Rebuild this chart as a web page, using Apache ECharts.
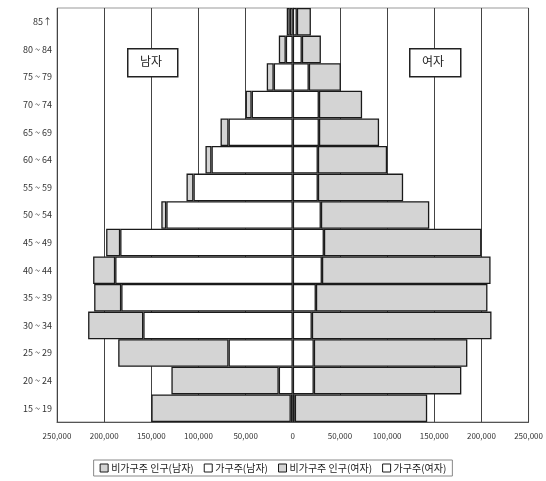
<!DOCTYPE html>
<html><head><meta charset="utf-8">
<script src="https://cdn.jsdelivr.net/npm/echarts@6/dist/echarts.min.js"></script>
<style>html,body{margin:0;padding:0;background:#fff}#c{width:546px;height:481px}</style>
</head><body><div id="c"></div>
<script>
// age groups, bottom to top
const ageGroups = ['15 ~ 19','20 ~ 24','25 ~ 29','30 ~ 34','35 ~ 39','40 ~ 44','45 ~ 49','50 ~ 54','55 ~ 59','60 ~ 64','65 ~ 69','70 ~ 74','75 ~ 79','80 ~ 84','85↑'];
const maleHeads    = [2100,14900,68100,158500,181900,188300,183000,134100,105300,86200,68100,43600,20200,7400,3200];
const maleOthers   = [147900,113800,117000,58500,28700,23400,14900,5300,7400,6400,8500,6400,7400,7400,3200];
const femaleHeads  = [2100,22300,22300,20200,24500,30900,33000,29800,26600,26600,27700,27700,17000,9600,4300];
const femaleOthers = [140400,156400,162800,190500,181900,178800,167000,114900,90400,73400,63800,45800,34000,20200,14900];
const seriesNames = ['비가구주 인구(남자)','가구주(남자)','비가구주 인구(여자)','가구주(여자)'];
const xTicks = {min:-250000, max:250000, interval:50000};

const grayC = '#d4d4d4', whiteC = '#ffffff', lineC = '#1a1a1a';
const neg = a => a.map(v => -v);
const mk = (name, data, color) => ({name, data, type:'bar', stack:'all', barCategoryGap:'0%', barGap:'-100%',
  itemStyle:{color, borderColor:lineC, borderWidth:1.3}, emphasis:{disabled:true}});

const chart = echarts.init(document.getElementById('c'), null, {renderer:'canvas'});
chart.setOption({
  animation:false,
  textStyle:{fontFamily:'Noto Sans CJK KR, sans-serif'},
  grid:{left:57, right:14, top:8, bottom:59, show:true, borderColor:'#999', borderWidth:1},
  xAxis:{type:'value', min:xTicks.min, max:xTicks.max, interval:xTicks.interval,
    axisLine:{show:true, lineStyle:{color:'#555'}}, axisTick:{show:false},
    axisLabel:{fontSize:8, color:'#333', margin:10, formatter:v => Math.abs(v).toLocaleString('en-US')},
    splitLine:{show:true, lineStyle:{color:'#444', width:1}}},
  yAxis:{type:'category', data:ageGroups, axisTick:{show:false},
    axisLine:{show:true, lineStyle:{color:'#999'}},
    axisLabel:{fontSize:9, color:'#333', margin:5}},
  legend:{bottom:5, left:'center', data:seriesNames, icon:'rect', itemWidth:8, itemHeight:8, itemGap:10,
    borderColor:'#888', borderWidth:1, padding:[3,6],
    itemStyle:{borderColor:lineC, borderWidth:1},
    textStyle:{fontSize:10, color:'#222', padding:[0,0,0,-2]}},
  graphic:[
    {type:'rect', left:127, top:48, shape:{width:50, height:28}, style:{fill:'#fff', stroke:'#222', lineWidth:1.5}, z:100},
    {type:'text', left:140, top:55, style:{text:'남자', fontSize:12, fill:'#222', fontFamily:'Noto Sans CJK KR'}, z:101},
    {type:'rect', left:409, top:48, shape:{width:51, height:28}, style:{fill:'#fff', stroke:'#222', lineWidth:1.5}, z:100},
    {type:'text', left:422, top:55, style:{text:'여자', fontSize:12, fill:'#222', fontFamily:'Noto Sans CJK KR'}, z:101}
  ],
  series:[
    mk(seriesNames[1], neg(maleHeads), whiteC),
    mk(seriesNames[0], neg(maleOthers), grayC),
    mk(seriesNames[3], femaleHeads, whiteC),
    mk(seriesNames[2], femaleOthers, grayC)
  ]
});
</script></body></html>
